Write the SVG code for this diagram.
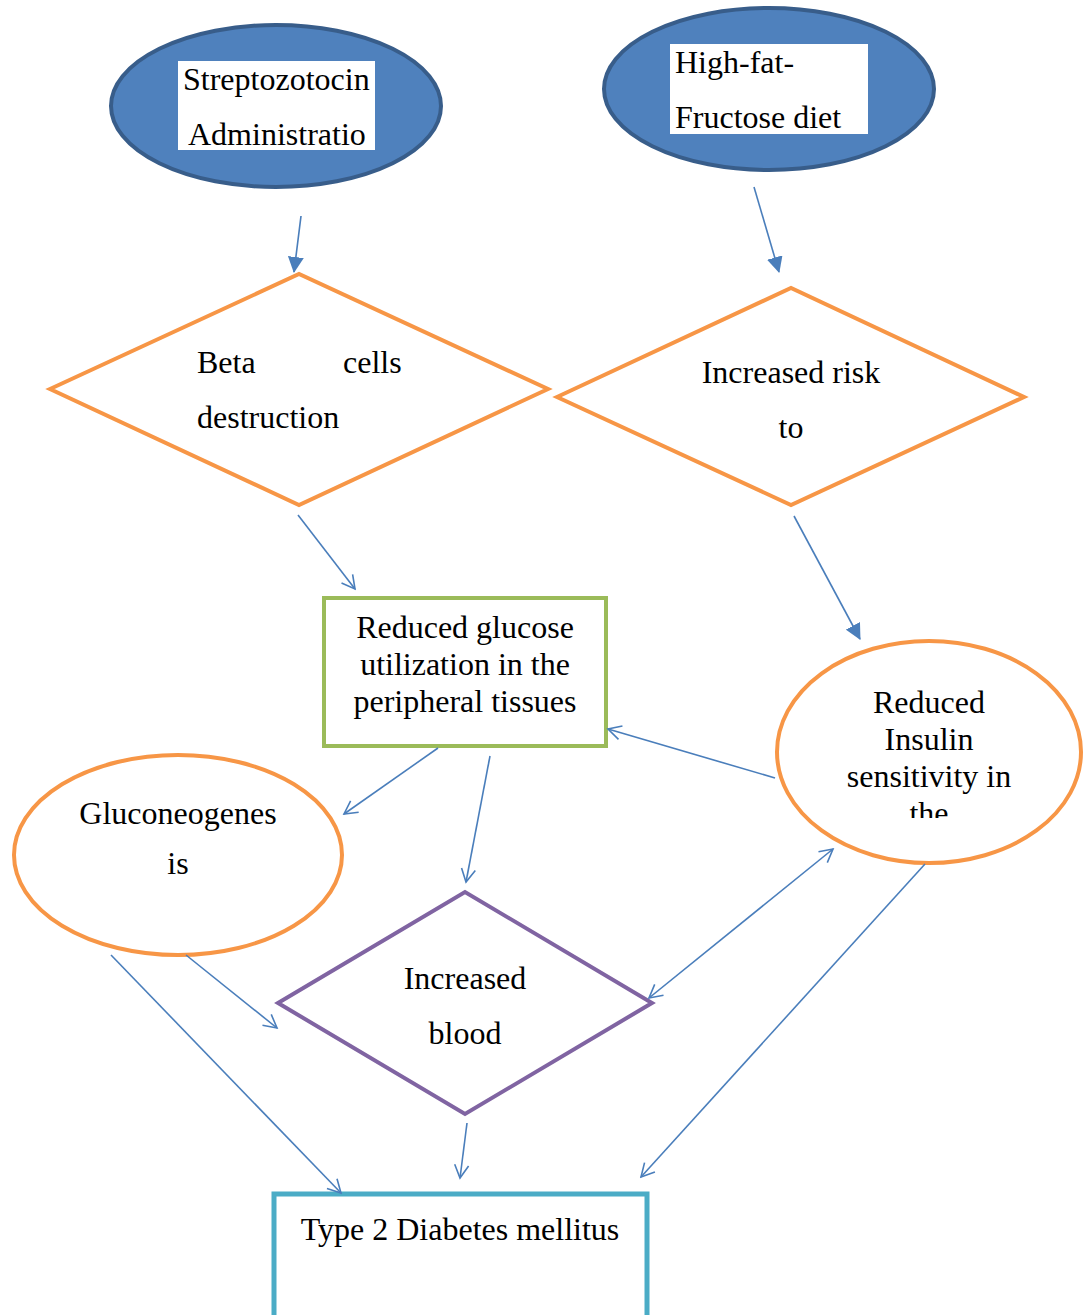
<svg xmlns="http://www.w3.org/2000/svg" width="1083" height="1315" viewBox="0 0 1083 1315">
<style>
text{font-family:"Liberation Serif","Times New Roman",serif;font-size:32px;fill:#000}
.c{text-anchor:middle}
.blue{fill:#4F81BD;stroke:#385D8A;stroke-width:4}
.org{fill:#fff;stroke:#F79646;stroke-width:4}
.con line{stroke:#4A7EBB;stroke-width:1.6}
</style>
<defs>
<marker id="fa" viewBox="0 0 16 16" refX="15" refY="8" markerWidth="16" markerHeight="16" markerUnits="userSpaceOnUse" orient="auto"><path d="M0,0 L16,8 L0,16 z" fill="#4A7EBB"/></marker>
<marker id="oa" viewBox="0 0 16 16" refX="14" refY="8" markerWidth="16" markerHeight="16" markerUnits="userSpaceOnUse" orient="auto-start-reverse"><path d="M1,1 L14,8 L1,15" fill="none" stroke="#4A7EBB" stroke-width="1.6"/></marker>
<clipPath id="clipR"><rect x="770" y="640" width="313" height="178"/></clipPath>
</defs>
<g id="streptozotocin">
<ellipse class="blue" cx="276" cy="106" rx="165" ry="81"/>
<rect x="178" y="61" width="197" height="89" fill="#fff"/>
<text x="183" y="90">Streptozotocin</text>
<text x="188" y="145">Administratio</text>
</g>
<g id="highfat">
<ellipse class="blue" cx="769" cy="89" rx="165" ry="81"/>
<rect x="670" y="44" width="198" height="90" fill="#fff"/>
<text x="675" y="73">High-fat-</text>
<text x="675" y="128">Fructose diet</text>
</g>
<g id="beta">
<polygon class="org" points="50,389 299,274 548,389 299,505"/>
<text x="197" y="373">Beta</text>
<text x="343" y="373">cells</text>
<text x="197" y="428">destruction</text>
</g>
<g id="risk">
<polygon class="org" points="557,397 791,288 1024,397 791,505"/>
<text class="c" x="791" y="383">Increased risk</text>
<text class="c" x="791" y="438">to</text>
</g>
<g id="reducedglucose">
<rect x="324" y="598" width="282" height="148" fill="#fff" stroke="#9BBB59" stroke-width="4"/>
<text class="c" x="465" y="638">Reduced glucose</text>
<text class="c" x="465" y="675">utilization in the</text>
<text class="c" x="465" y="712">peripheral tissues</text>
</g>
<g id="insulin">
<ellipse class="org" cx="929" cy="752" rx="152" ry="111"/>
<g clip-path="url(#clipR)">
<text class="c" x="929" y="713">Reduced</text>
<text class="c" x="929" y="750">Insulin</text>
<text class="c" x="929" y="787">sensitivity in</text>
<text class="c" x="929" y="824">the</text>
</g>
</g>
<g id="gluconeogenesis">
<ellipse class="org" cx="178" cy="855" rx="164" ry="100"/>
<text class="c" x="178" y="824">Gluconeogenes</text>
<text class="c" x="178" y="874">is</text>
</g>
<g id="blood">
<polygon points="278,1003 465,892 652,1003 465,1114" fill="#fff" stroke="#8064A2" stroke-width="4"/>
<text class="c" x="465" y="989">Increased</text>
<text class="c" x="465" y="1044">blood</text>
</g>
<g id="t2dm">
<rect x="274" y="1194" width="373" height="130" fill="#fff" stroke="#4BACC6" stroke-width="5"/>
<text class="c" x="460" y="1240">Type 2 Diabetes mellitus</text>
</g>
<g id="connectors" class="con">
<line x1="301" y1="216" x2="294" y2="272" marker-end="url(#fa)"/>
<line x1="754" y1="187" x2="779" y2="272" marker-end="url(#fa)"/>
<line x1="298" y1="515" x2="355" y2="589" marker-end="url(#oa)"/>
<line x1="794" y1="516" x2="860" y2="639" marker-end="url(#fa)"/>
<line x1="438" y1="748" x2="344" y2="814" marker-end="url(#oa)"/>
<line x1="490" y1="756" x2="466" y2="882" marker-end="url(#oa)"/>
<line x1="775" y1="778" x2="608" y2="729" marker-end="url(#oa)"/>
<line x1="649" y1="998" x2="833" y2="849" marker-start="url(#oa)" marker-end="url(#oa)"/>
<line x1="186" y1="955" x2="277" y2="1028" marker-end="url(#oa)"/>
<line x1="111" y1="955" x2="341" y2="1193" marker-end="url(#oa)"/>
<line x1="925" y1="864" x2="641" y2="1177" marker-end="url(#oa)"/>
<line x1="467" y1="1123" x2="460" y2="1178" marker-end="url(#oa)"/>
</g>
</svg>
